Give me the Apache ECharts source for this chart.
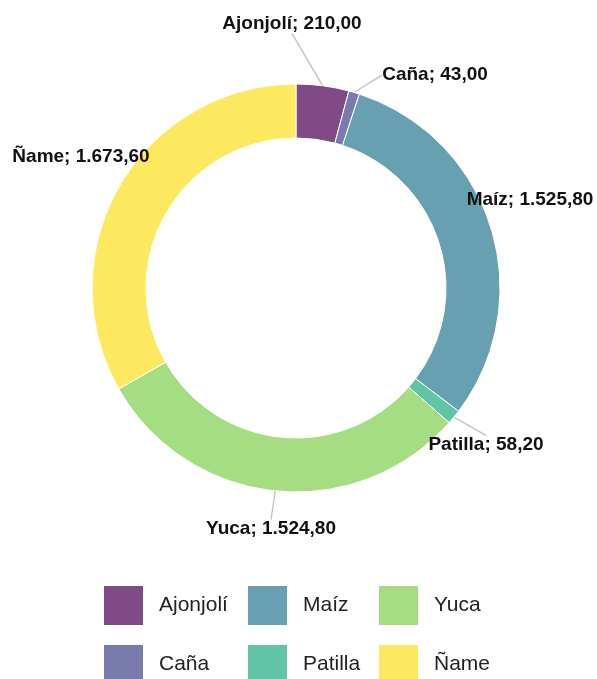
<!DOCTYPE html>
<html>
<head>
<meta charset="utf-8">
<script src="https://cdn.jsdelivr.net/npm/echarts@6/dist/echarts.min.js"></script>
<style>
html,body{margin:0;padding:0;background:#fff;}
#chart{width:597px;height:679px;}
</style>
</head>
<body>
<div id="chart"></div>
<script>
// Data
const categories = ['Ajonjolí', 'Caña', 'Maíz', 'Patilla', 'Yuca', 'Ñame'];
const values = [210.00, 43.00, 1525.80, 58.20, 1524.80, 1673.60];
const colors = ['#7f4a86', '#7a7bad', '#67a0b0', '#62c4a7', '#a5de82', '#fde960'];

// Label placement (label centers in px), styling only
const labelPos = [[292, 24], [435, 75], [530, 200], [486, 445], [271, 529], [81, 157]];

function fmtEs(v) {
  const parts = v.toFixed(2).split('.');
  parts[0] = parts[0].replace(/\B(?=(\d{3})+(?!\d))/g, '.');
  return parts[0] + ',' + parts[1];
}

const chart = echarts.init(document.getElementById('chart'), null, {renderer: 'canvas'});

const legendCols = [['Ajonjolí', 'Caña'], ['Maíz', 'Patilla'], ['Yuca', 'Ñame']];
const legendLefts = [102, 246, 377];

const legends = legendCols.map((names, i) => ({
  type: 'plain',
  orient: 'vertical',
  left: legendLefts[i],
  top: 584,
  width: 140,
  height: 140,
  padding: 0,
  itemWidth: 41,
  itemHeight: 41,
  itemGap: 16,
  icon: 'rect',
  selectedMode: false,
  data: names,
  textStyle: {
    fontFamily: 'Liberation Sans, Arial, sans-serif',
    fontSize: 21,
    color: '#222',
    padding: [0, 0, 0, 10]
  }
}));

chart.setOption({
  animation: false,
  color: colors,
  legend: legends,
  series: [{
    type: 'pie',
    center: [296, 288],
    radius: [150, 204],
    startAngle: 90,
    clockwise: true,
    avoidLabelOverlap: false,
    itemStyle: { borderColor: '#fff', borderWidth: 1 },
    label: {
      show: true,
      position: 'outside',
      formatter: p => p.name + '; ' + fmtEs(p.value),
      fontFamily: 'Liberation Sans, Arial, sans-serif',
      fontWeight: 'bold',
      fontSize: 19,
      color: '#111'
    },
    labelLine: {
      show: true,
      length: 10,
      length2: 0,
      lineStyle: { color: '#c8c8c8', width: 1.5 }
    },
    labelLayout: function (params) {
      const p = labelPos[params.dataIndex];
      return { x: p[0], y: p[1], align: 'center', verticalAlign: 'middle' };
    },
    emphasis: { disabled: true },
    data: categories.map((c, i) => ({ name: c, value: values[i] }))
  }]
});
</script>
</body>
</html>
